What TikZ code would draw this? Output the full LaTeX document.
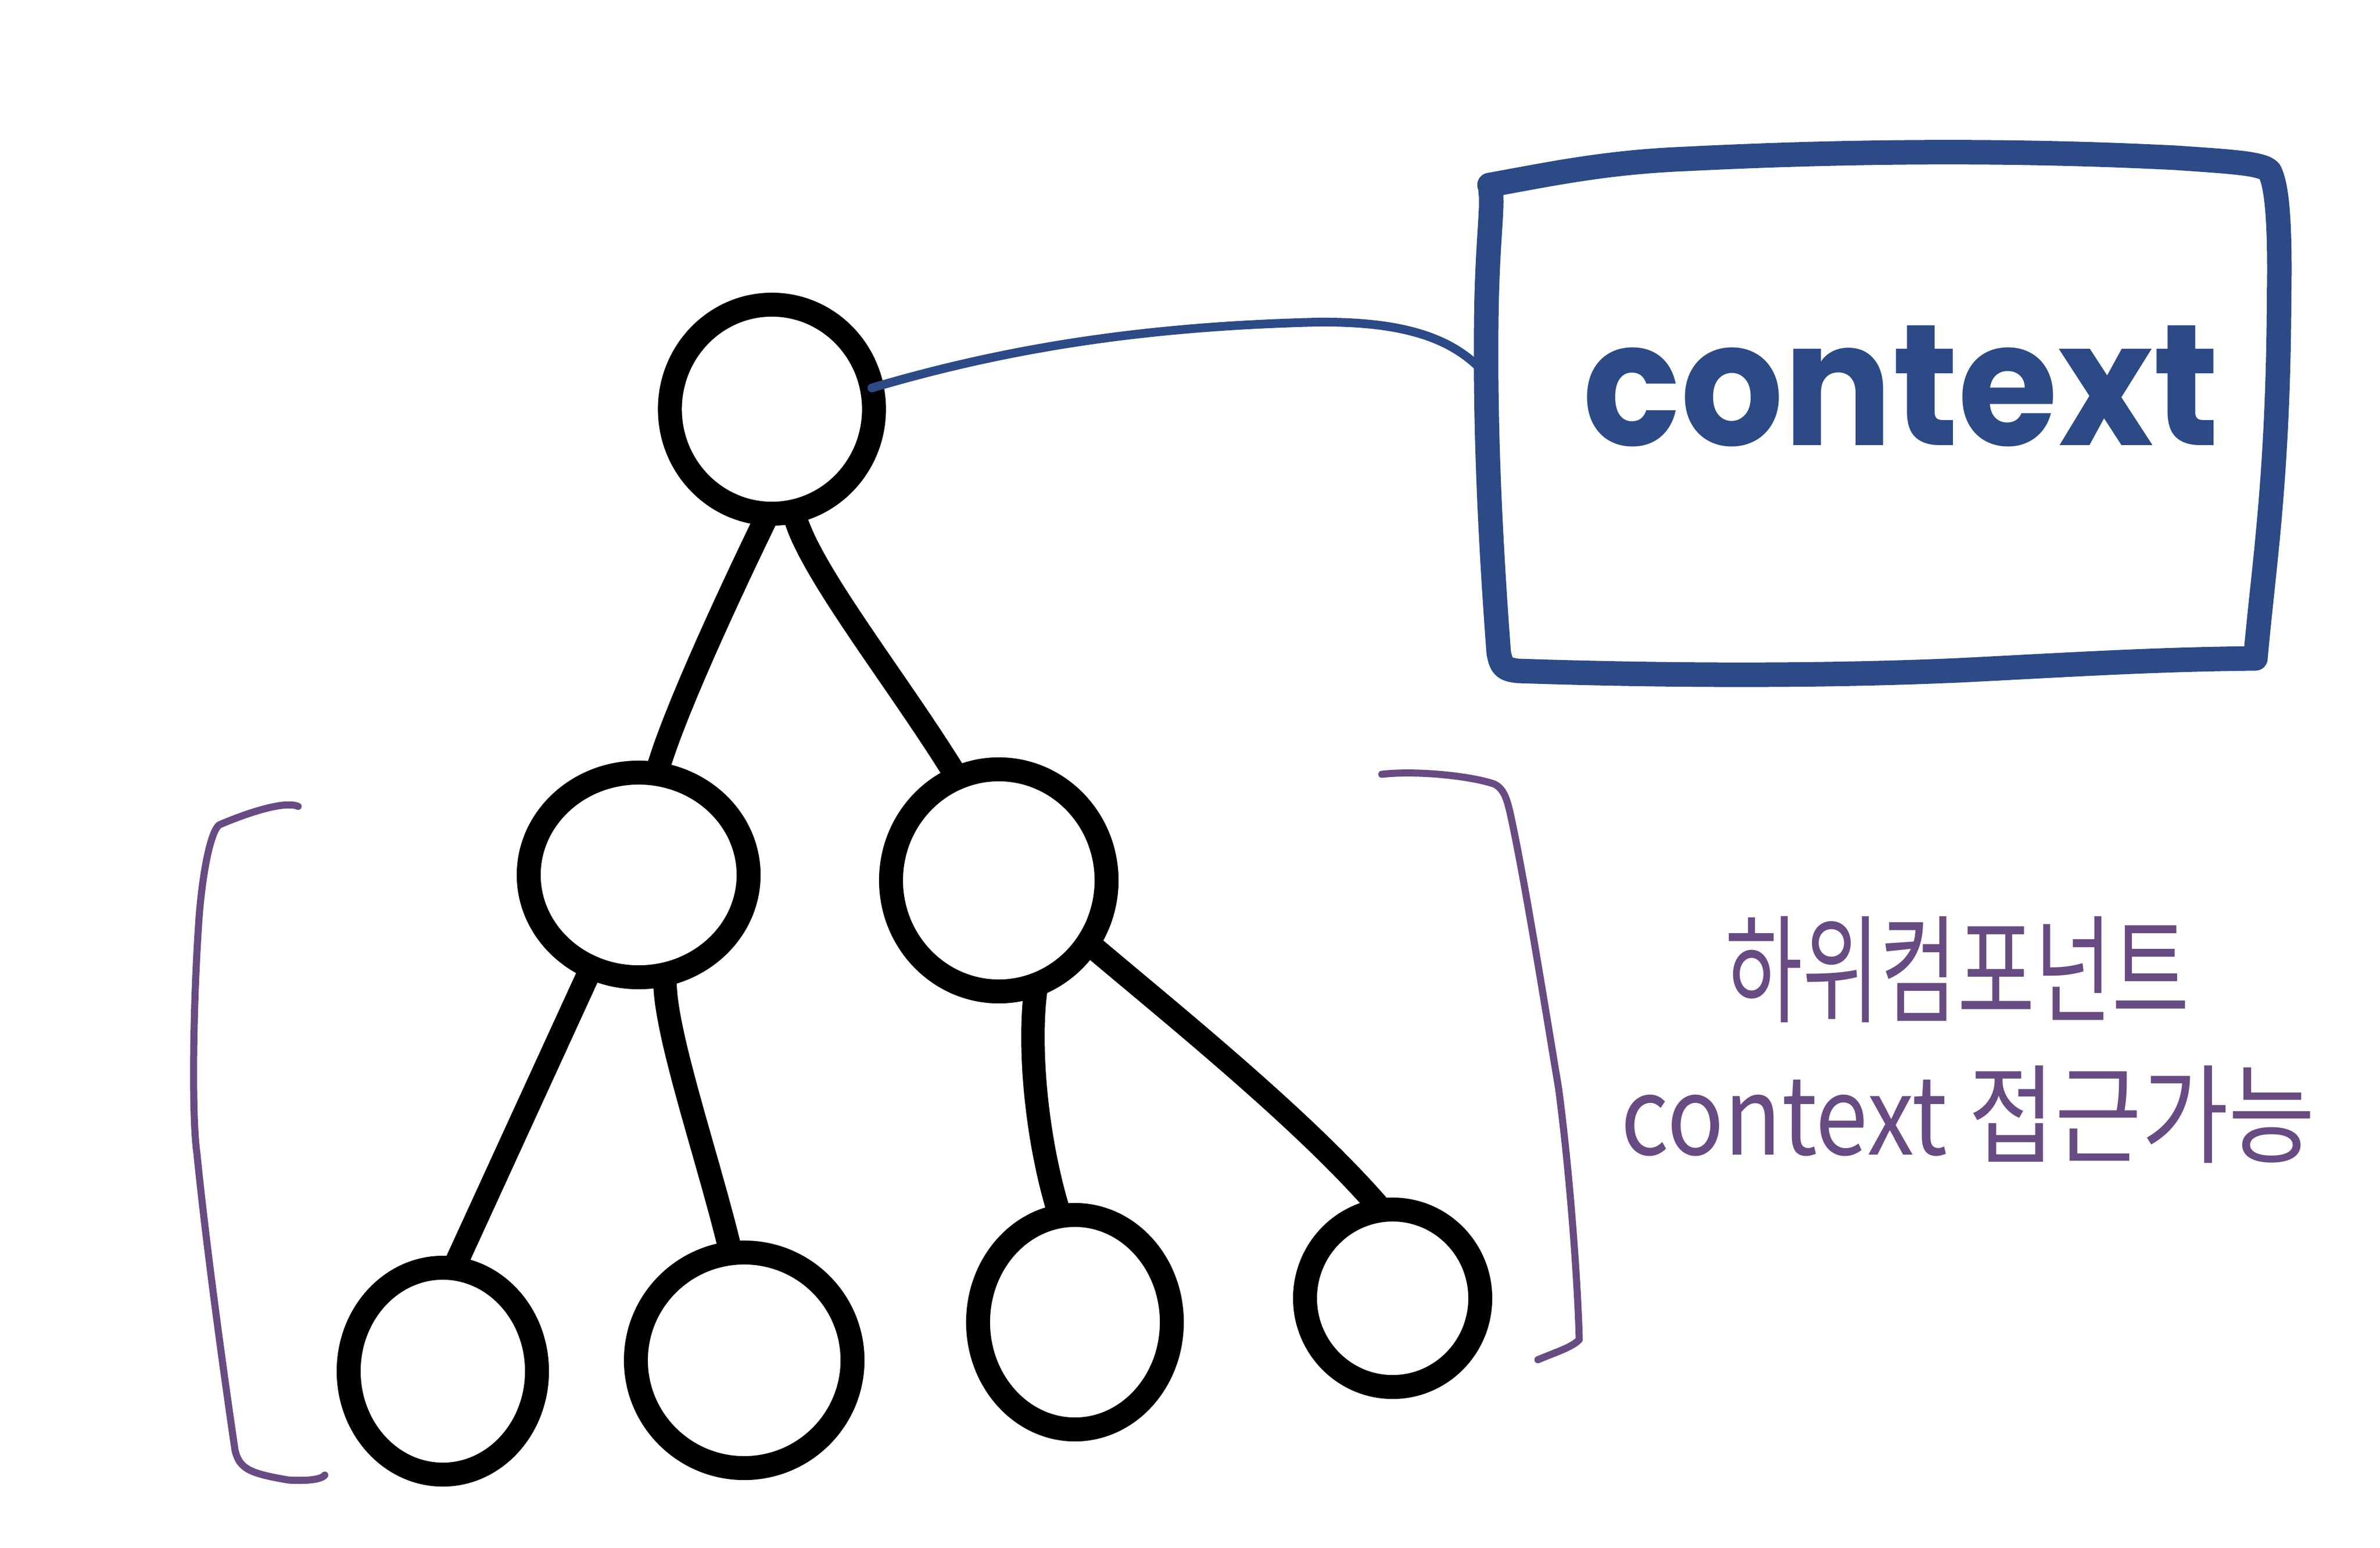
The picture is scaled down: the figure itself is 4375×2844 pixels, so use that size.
\documentclass[tikz,border=0pt]{standalone}
\usepackage{fontspec}
\usepackage{graphicx}
\newfontfamily\krfont{Noto Sans CJK KR}
\newfontfamily\ctxfont{Poppins}
\usetikzlibrary{shapes.geometric}
\definecolor{inkblue}{RGB}{44,74,133}
\definecolor{inkpurple}{RGB}{103,75,130}
\tikzset{
  blob/.style={draw=black, line width=0.44cm, ellipse, inner sep=0pt, outer sep=0pt},
  edge/.style={draw=black, line width=0.43cm, line cap=round},
  boxline/.style={draw=inkblue, line width=0.45cm, line cap=round, line join=round},
  link/.style={draw=inkblue, line width=0.16cm, line cap=round},
  brace/.style={draw=inkpurple, line width=0.13cm, line cap=round, line join=round},
  lbl/.style={inner sep=0pt, outer sep=0pt}
}
\begin{document}
\begin{tikzpicture}[x=0.01cm, y=-0.01cm]
\useasboundingbox (0,0) rectangle (4375,2844);
\fill[white] (0,0) rectangle (4375,2844);

% tree nodes
\node[blob, minimum width=3.75cm, minimum height=3.84cm] (root) at (1419,752) {};
\node[blob, minimum width=4.04cm, minimum height=3.76cm] (ml) at (1174,1608) {};
\node[blob, minimum width=3.96cm, minimum height=4.08cm] (mr) at (1836,1618) {};
\node[blob, minimum width=3.46cm, minimum height=3.80cm] (l1) at (814,2520) {};
\node[blob, minimum width=3.98cm, minimum height=3.96cm] (l2) at (1368,2500) {};
\node[blob, minimum width=3.56cm, minimum height=3.94cm] (l3) at (1976,2430) {};
\node[blob, minimum width=3.22cm, minimum height=3.26cm] (l4) at (2560,2386) {};

% tree edges
\draw[edge] (root.268) .. controls (1380,1010) and (1240,1300) .. (ml.80);
\draw[edge] (root.282) .. controls (1480,1040) and (1650,1250) .. (mr.112);
\draw[edge] (ml.243) -- (l1.84);
\draw[edge] (ml.285) .. controls (1215,1880) and (1300,2120) .. (l2.97);
\draw[edge] (mr.290) .. controls (1890,1900) and (1900,2080) .. (l3.98);
\draw[edge] (mr.325) .. controls (2150,1860) and (2400,2060) .. (l4.97);

% context box
\node[lbl, anchor=base, text=inkblue] (ctx) at (3494,818)
  {\resizebox{11.69cm}{2.2cm}{\ctxfont\bfseries context}};
\draw[boxline] (2738,340) .. controls (2850,320) and (2950,298) .. (3100,292)
  .. controls (3500,272) and (3800,280) .. (4000,290)
  .. controls (4100,297) and (4160,300) .. (4172,315)
  .. controls (4185,340) and (4190,400) .. (4190,500)
  -- (4189,600)
  .. controls (4185,900) and (4160,1050) .. (4146,1210)
  .. controls (3950,1212) and (3800,1222) .. (3600,1232)
  .. controls (3300,1245) and (3000,1240) .. (2790,1233)
  .. controls (2765,1230) and (2760,1225) .. (2755,1200)
  .. controls (2740,1000) and (2730,800) .. (2732,600)
  .. controls (2733,450) and (2745,380) .. (2740,352);
\coordinate (ctxL) at (2733,690);
\draw[link] (root.12) .. controls (1850,640) and (2100,600) .. (2420,592)
  .. controls (2600,590) and (2680,630) .. (ctxL);

% brackets
\draw[brace] (548,1482) .. controls (520,1470) and (440,1500) .. (403,1516)
  .. controls (385,1530) and (370,1620) .. (365,1700)
  .. controls (355,1850) and (352,2050) .. (362,2120)
  .. controls (380,2300) and (415,2550) .. (432,2665)
  .. controls (440,2700) and (460,2708) .. (530,2720)
  .. controls (560,2722) and (590,2720) .. (597,2711);
\draw[brace] (2540,1423) .. controls (2600,1416) and (2700,1425) .. (2747,1441)
  .. controls (2765,1450) and (2770,1470) .. (2775,1490)
  .. controls (2800,1600) and (2840,1850) .. (2865,2000)
  .. controls (2885,2150) and (2900,2350) .. (2903,2462)
  .. controls (2890,2476) and (2860,2485) .. (2827,2499);

% annotation
\node[lbl, text=inkpurple] (t1) at (3598,1782)
  {\resizebox*{8.53cm}{1.95cm}{\krfont 하위컴포넌트}};
\node[lbl, text=inkpurple] (t2) at (3618,2048)
  {\resizebox*{12.75cm}{1.79cm}{\krfont context 접근가능}};
\end{tikzpicture}
\end{document}
